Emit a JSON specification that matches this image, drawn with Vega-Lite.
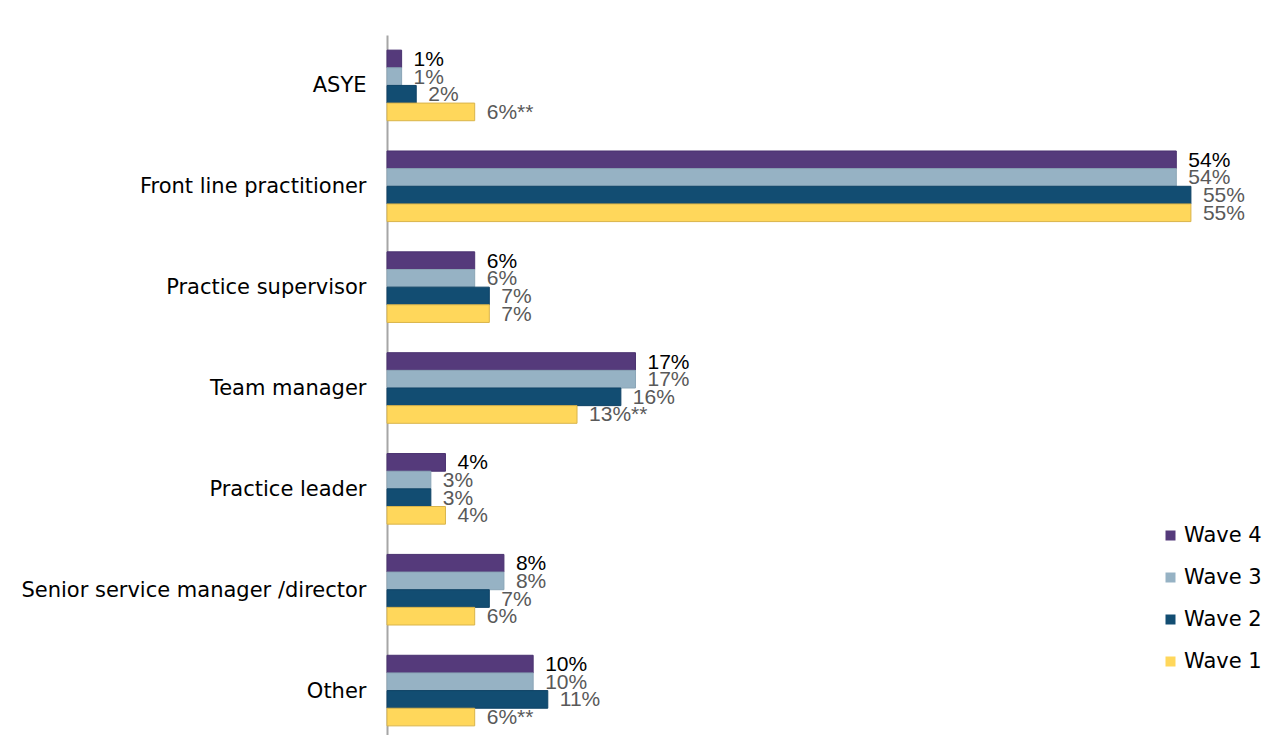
{
  "$schema": "https://vega.github.io/schema/vega-lite/v6.json",
  "autosize": {"type": "none"},
  "padding": {"left": 387, "top": 35, "right": 0, "bottom": 0},
  "width": 877,
  "height": 706,
  "background": "white",
  "config": {
    "font": "Liberation Sans",
    "view": {"stroke": null}
  },
  "data": {
    "values": [
      {"role": "ASYE", "wave": "Wave 4", "value": 1, "label": "1%"},
      {"role": "ASYE", "wave": "Wave 3", "value": 1, "label": "1%"},
      {"role": "ASYE", "wave": "Wave 2", "value": 2, "label": "2%"},
      {"role": "ASYE", "wave": "Wave 1", "value": 6, "label": "6%**"},
      {"role": "Front line practitioner", "wave": "Wave 4", "value": 54, "label": "54%"},
      {"role": "Front line practitioner", "wave": "Wave 3", "value": 54, "label": "54%"},
      {"role": "Front line practitioner", "wave": "Wave 2", "value": 55, "label": "55%"},
      {"role": "Front line practitioner", "wave": "Wave 1", "value": 55, "label": "55%"},
      {"role": "Practice supervisor", "wave": "Wave 4", "value": 6, "label": "6%"},
      {"role": "Practice supervisor", "wave": "Wave 3", "value": 6, "label": "6%"},
      {"role": "Practice supervisor", "wave": "Wave 2", "value": 7, "label": "7%"},
      {"role": "Practice supervisor", "wave": "Wave 1", "value": 7, "label": "7%"},
      {"role": "Team manager", "wave": "Wave 4", "value": 17, "label": "17%"},
      {"role": "Team manager", "wave": "Wave 3", "value": 17, "label": "17%"},
      {"role": "Team manager", "wave": "Wave 2", "value": 16, "label": "16%"},
      {"role": "Team manager", "wave": "Wave 1", "value": 13, "label": "13%**"},
      {"role": "Practice leader", "wave": "Wave 4", "value": 4, "label": "4%"},
      {"role": "Practice leader", "wave": "Wave 3", "value": 3, "label": "3%"},
      {"role": "Practice leader", "wave": "Wave 2", "value": 3, "label": "3%"},
      {"role": "Practice leader", "wave": "Wave 1", "value": 4, "label": "4%"},
      {"role": "Senior service manager /director", "wave": "Wave 4", "value": 8, "label": "8%"},
      {"role": "Senior service manager /director", "wave": "Wave 3", "value": 8, "label": "8%"},
      {"role": "Senior service manager /director", "wave": "Wave 2", "value": 7, "label": "7%"},
      {"role": "Senior service manager /director", "wave": "Wave 1", "value": 6, "label": "6%"},
      {"role": "Other", "wave": "Wave 4", "value": 10, "label": "10%"},
      {"role": "Other", "wave": "Wave 3", "value": 10, "label": "10%"},
      {"role": "Other", "wave": "Wave 2", "value": 11, "label": "11%"},
      {"role": "Other", "wave": "Wave 1", "value": 6, "label": "6%**"}
    ]
  },
  "encoding": {
    "y": {
      "field": "role",
      "type": "nominal",
      "sort": null,
      "scale": {"paddingInner": 0.3, "paddingOuter": 0.15},
      "axis": {
        "title": null,
        "ticks": false,
        "labelFont": "DejaVu Sans",
        "labelFontSize": 21,
        "labelColor": "#000000",
        "labelPadding": 21,
        "labelBaseline": "middle",
        "labelOffset": 1,
        "domainColor": "#A6A6A6",
        "domainWidth": 2,
        "labelLimit": 400
      }
    },
    "yOffset": {
      "field": "wave",
      "type": "nominal",
      "sort": ["Wave 4", "Wave 3", "Wave 2", "Wave 1"],
      "scale": {"paddingInner": 0, "paddingOuter": 0}
    },
    "x": {
      "field": "value",
      "type": "quantitative",
      "scale": {"domain": [0, 60], "nice": false},
      "axis": null
    }
  },
  "layer": [
    {
      "mark": {"type": "bar", "strokeWidth": 1},
      "encoding": {
        "color": {
          "field": "wave",
          "type": "nominal",
          "sort": ["Wave 4", "Wave 3", "Wave 2", "Wave 1"],
          "scale": {
            "domain": ["Wave 4", "Wave 3", "Wave 2", "Wave 1"],
            "range": ["#553A7B", "#96B2C4", "#124D72", "#FFD75B"]
          },
          "legend": {
            "title": null,
            "orient": "none",
            "legendX": 773,
            "legendY": 490,
            "symbolType": "square",
            "symbolSize": 100,
            "symbolStrokeWidth": 0,
            "labelFont": "DejaVu Sans",
            "labelFontSize": 21,
            "labelColor": "#000000",
            "labelOffset": 3,
            "rowPadding": 20
          }
        },
        "stroke": {
          "field": "wave",
          "type": "nominal",
          "scale": {
            "domain": ["Wave 4", "Wave 3", "Wave 2", "Wave 1"],
            "range": ["#4A3270", "#8AA5B6", "#0F4366", "#D9B44A"]
          },
          "legend": null
        }
      }
    },
    {
      "mark": {"type": "text", "align": "left", "baseline": "middle", "dx": 12, "dy": 1, "fontSize": 21},
      "encoding": {
        "text": {"field": "label"},
        "color": {
          "condition": {"test": "datum.wave === 'Wave 4'", "value": "#000000"},
          "value": "#595959"
        }
      }
    }
  ]
}
